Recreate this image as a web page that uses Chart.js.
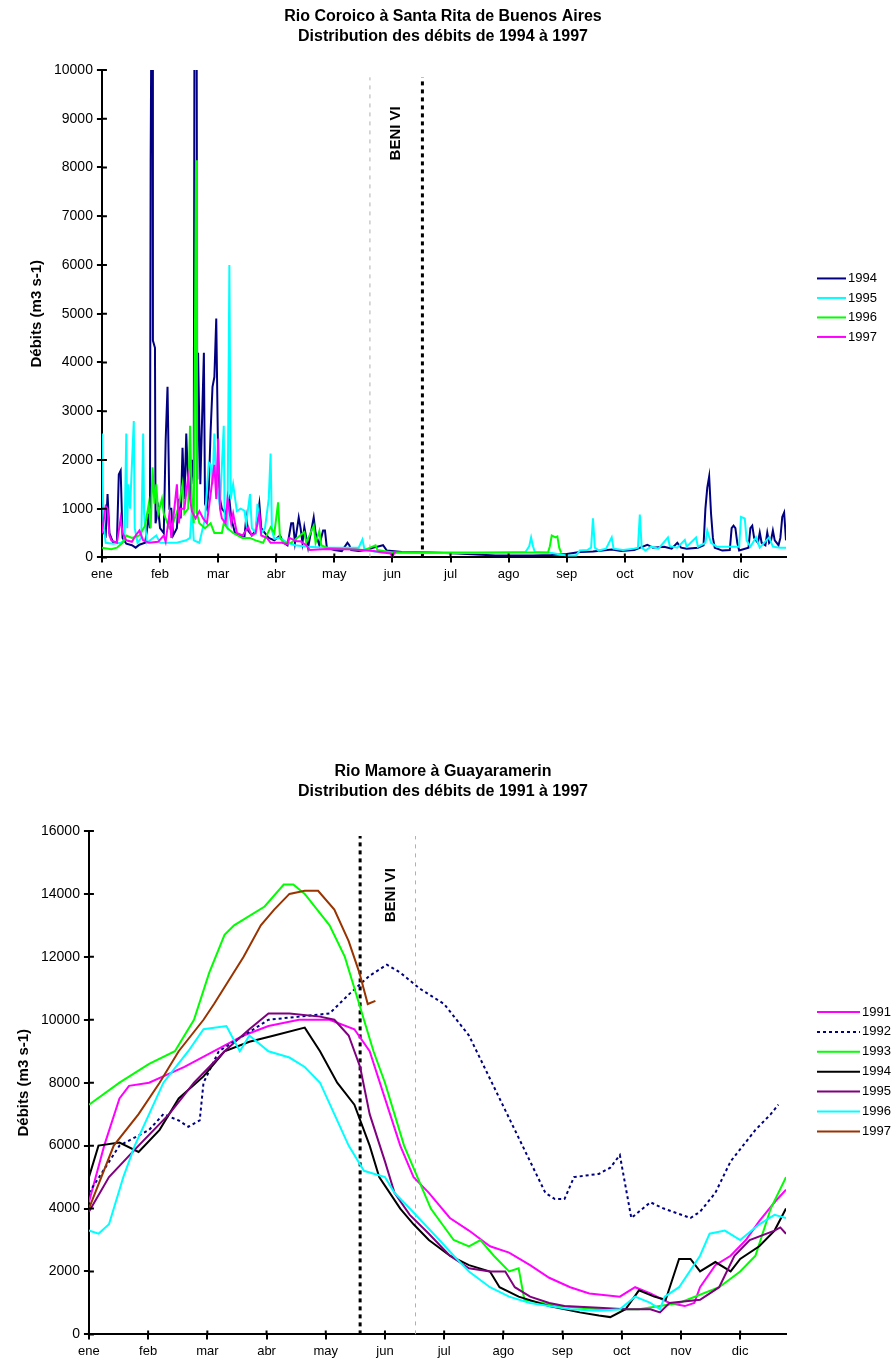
<!DOCTYPE html>
<html>
<head>
<meta charset="utf-8">
<script src="https://cdn.jsdelivr.net/npm/chart.js@4.4.1/dist/chart.umd.min.js"></script>
<style>
  body { margin: 0; background: #fff; width: 895px; height: 1361px; position: relative; overflow: hidden; }
  canvas { position: absolute; left: 0; }
</style>
</head>
<body>
<canvas id="coroico" width="895" height="600" style="top:0"></canvas>
<canvas id="mamore" width="895" height="615" style="top:750px"></canvas>
<script>
// Month ticks (day of year) and labels
const monthDays = [0, 31, 62, 93, 124, 155, 186, 217, 248, 279, 310, 341];
const monthLabels = ['ene', 'feb', 'mar', 'abr', 'may', 'jun', 'jul', 'ago', 'sep', 'oct', 'nov', 'dic'];

// ---- Rio Coroico, daily flow [day, m3/s]
const coroico1994 = [[0,550],[2,450],[3,1300],[4,500],[6,300],[8,320],[9,1700],[10,1780],[11,400],[13,280],
  [16,250],[18,200],[20,260],[23,300],[24,550],[25,900],[25.6,600],[26,8150],[26.5,12000],[27,12000],
  [27.2,4450],[28.3,4300],[28.6,700],[30,1000],[31,600],[33,500],[34,2400],[35,3500],[36,1000],[37,1000],
  [38,450],[40,600],[41,1200],[42,800],[43,2250],[44,1200],[45,2540],[46,1500],[47,1200],[48,2000],
  [49,1500],[49.4,12000],[50.5,12000],[50.9,1600],[51.3,4200],[52.5,1500],[54.4,4200],[55,1100],[56,1000],[57,1400],
  [58,2600],[59,3500],[60,3700],[61,4900],[62,2000],[63,1200],[64,1000],[66,900],[68,1200],[69,800],
  [71,500],[73,450],[76,400],[77,820],[78,550],[80,450],[82,550],[84,1100],[85,600],[87,500],
  [89,400],[92,350],[95,450],[97,300],[99,250],[101,700],[102,700],[103,300],[105,820],[106,600],
  [107,300],[108,620],[110,200],[113,820],[114,500],[116,250],[118,550],[119,550],[120,200],[124,150],
  [128,130],[131,300],[132,250],[133,150],[137,130],[141,150],[145,200],[150,250],[152,140],[160,110],
  [175,100],[190,80],[200,60],[210,40],[230,40],[240,50],[248,70],[255,110],[262,120],[267,140],
  [272,160],[277,130],[284,150],[291,260],[294,200],[300,220],[304,180],[307,300],[309,200],[312,180],
  [318,200],[321,250],[322,1000],[323,1430],[324,1660],[325,900],[326,400],[327,200],[331,140],[335,150],
  [336,600],[337,650],[338,600],[339,300],[340,140],[345,200],[346,600],[347,650],[348,400],[350,300],
  [351,510],[352,300],[354,250],[355,510],[356,300],[357,350],[358,550],[359,350],[361,250],[362,400],
  [363,830],[364,920],[365,350]];
const coroico1995 = [[0,2540],[0.8,700],[2,300],[6,280],[10,300],[12,350],[13,2540],[13.5,600],[14,1500],[15,1000],
  [16,1900],[17,2800],[17.5,600],[19,300],[21,400],[22,2540],[22.5,900],[24,300],[29,450],[31,300],
  [40,300],[45,350],[47,400],[48,1000],[49,350],[52,300],[55,800],[57,1950],[58,1900],[59,1500],
  [60,2540],[61,1550],[63,1050],[65,2700],[65.5,700],[67,600],[68,6000],[68.7,1200],[70,1500],[72,950],
  [74,1000],[76,960],[77,700],[79,1300],[80,600],[82,500],[83,1100],[84,700],[85,500],[87,600],
  [89,1200],[90,2130],[90.7,550],[92,380],[95,400],[99,300],[103,250],[110,220],[120,200],[130,200],
  [137,200],[139,370],[140,180],[145,120],[150,100],[170,90],[200,90],[226,110],[228,230],[229,410],
  [230,230],[231,110],[240,90],[248,40],[253,40],[255,140],[259,150],[261,200],[262,800],[263,200],
  [265,140],[269,180],[272,410],[273,180],[278,150],[284,180],[286,200],[287,880],[288,200],[290,140],
  [293,220],[297,180],[302,410],[303,230],[307,200],[311,360],[312,220],[317,410],[318,220],[322,300],
  [323,550],[325,300],[328,220],[335,220],[340,220],[341,830],[343,800],[344,350],[346,220],[349,410],
  [351,200],[356,410],[358,220],[362,200],[365,200]];
const coroico1996 = [[0,200],[5,170],[8,200],[11,300],[13,450],[16,400],[20,450],[23,650],[25,1100],[26,600],
  [27,1850],[28,1100],[29,1500],[30,900],[32,1200],[33,900],[36,600],[38,700],[41,1050],[43,1500],
  [44,900],[46,1000],[47,2700],[48,1200],[49,700],[50.2,8150],[50.7,900],[52,700],[55,600],[58,700],
  [60,500],[64,500],[65,700],[67,600],[70,500],[75,400],[79,400],[82,350],[86,300],[90,620],
  [92,500],[94,1130],[95,400],[97,300],[101,300],[108,520],[109,300],[113,650],[114,300],[116,540],
  [117,250],[120,200],[128,180],[140,150],[146,250],[147,150],[155,100],[200,100],[238,100],[239,230],
  [240,450],[242,410],[243,430],[244,200],[245,100]];
const coroico1997 = [[0,500],[2,1050],[3,1000],[4,450],[5,350],[8,300],[10,800],[11,500],[13,350],[16,320],
  [18,450],[20,550],[22,350],[25,300],[30,320],[33,450],[34,320],[36,900],[37,400],[40,1500],
  [41,700],[42,1000],[44,1000],[46,1650],[47,1200],[48,950],[50,800],[52,950],[54,800],[56,700],
  [60,1900],[61,1200],[62,2440],[63,1000],[64,800],[66,700],[67,1200],[69,700],[70,900],[72,500],
  [75,450],[78,620],[80,450],[82,500],[84,900],[85,450],[88,400],[90,300],[96,300],[99,270],
  [100,400],[104,330],[106,330],[109,250],[111,150],[120,170],[135,160],[145,130],[150,100],[154,80],
  [155,0],[156,100],[157,100]];
const coroicoMarkers = [143, 171];      // grey dashed, black dotted (day of year)
const coroicoMarkerTop = 9850;
const coroicoLabelAt = [157, 8700];

// ---- Rio Mamore, daily flow [day, m3/s]
const mamore1991 = [[0,4200],[8,6000],[16,7500],[21,7900],[31.5,8000],[50,8500],[65.5,9000],[81,9500],[94,9800],[110,10000],
  [126,10000],[139,9700],[147,9000],[155,7500],[163,6000],[170,5000],[178,4500],[189,3700],[199,3300],[210,2800],
  [220,2600],[231,2200],[241,1800],[252,1500],[262,1300],[278,1200],[286,1500],[294,1300],[304,1000],[312,900],
  [317,1000],[320,1500],[328,2200],[336,2500],[344,3000],[351,3600],[359,4200],[365,4600]];
const mamore1992 = [[0,4500],[16,6000],[31.5,6500],[39,7000],[47,6800],[52,6600],[58,6800],[60,8000],[68,9000],[81,9500],
  [94,10000],[110,10100],[126,10200],[136,10800],[147,11400],[156,11750],[163,11500],[173,11000],[186,10500],[199,9500],
  [207,8500],[215,7500],[223,6500],[231,5500],[239,4500],[244,4300],[249,4300],[254,5000],[267,5100],[273,5300],
  [278,5700],[284,3700],[294,4200],[301,4000],[315,3700],[320,3900],[328,4500],[336,5500],[349,6500],[357,7000],
  [361,7300]];
const mamore1993 = [[0,7300],[16,8000],[31.5,8600],[45,9000],[55,10000],[63,11500],[71,12700],[76,13000],[92,13600],[102,14300],
  [107,14300],[113,14000],[126,13000],[134,12000],[139,11000],[144,10000],[149,9000],[155,8000],[160,7000],[165,6000],
  [172,5000],[179,4000],[191,3000],[199,2800],[205,3000],[212,2500],[220,2000],[225,2100],[228,1100],[246,900],
  [267,800],[288,800],[309,1000],[330,1500],[341,2000],[349,2500],[357,4000],[365,5000]];
const mamore1994 = [[0,5000],[5,6000],[16,6100],[26,5800],[37,6500],[47,7500],[60,8200],[71,9000],[84,9300],[97,9500],
  [113,9750],[121,9000],[130,8000],[139,7300],[147,6000],[152,5000],[163,4000],[170,3500],[178,3000],[189,2500],
  [199,2200],[210,2000],[215,1500],[225,1200],[241,900],[257,700],[267,600],[273,550],[281,800],[288,1400],
  [296,1200],[302,1100],[309,2400],[315,2400],[320,2000],[328,2300],[336,2000],[341,2400],[351,2800],[359,3300],
  [365,4000]];
const mamore1995 = [[0,3900],[10.5,5000],[26,6000],[42,7000],[55,8000],[71,9000],[84,9700],[94,10200],[105,10200],[121,10100],
  [128.5,10000],[136,9500],[142,8500],[147,7000],[155,5500],[160,4500],[168,3800],[178,3200],[189,2500],[199,2100],
  [210,2000],[218,2000],[223,1500],[231,1200],[241,1000],[249,900],[267,850],[281,800],[294,800],[299,700],
  [304,1000],[320,1100],[330,1500],[338,2500],[346,3000],[359,3300],[362,3400],[365,3200]];
const mamore1996 = [[0,3300],[5,3200],[10.5,3500],[18,5000],[24,6000],[31.5,7000],[39,8000],[52,9000],[60,9700],[72,9800],
  [79,9000],[84,9500],[94,9000],[105,8800],[113,8500],[121,8000],[128.5,7000],[136,6000],[144,5200],[155,5000],
  [160,4500],[168,4000],[183.5,3000],[191,2500],[199,2000],[210,1500],[220,1200],[231,1000],[241,900],[252,800],
  [267,750],[278,800],[286,1200],[294,1000],[299,800],[301.5,1200],[309,1500],[320,2500],[325,3200],[333,3300],
  [341,3000],[351,3500],[359,3800],[365,3700]];
const mamore1997 = [[0,4000],[13,6000],[26,7000],[37,8000],[47,9000],[60,10000],[65.5,10500],[81,12000],[90,13000],[97,13500],
  [105,14000],[113,14100],[120,14100],[128.5,13500],[136,12500],[141.6,11500],[146,10500],[150,10600]];
const mamoreMarkers = [142, 171];       // black dotted, grey dashed
const mamoreMarkerTop = 15840;
const mamoreLabelAt = [158, 13960];

const FONT = "'Liberation Sans', Arial, sans-serif";
Chart.defaults.font.family = FONT;
Chart.defaults.color = '#000';

const toPoints = arr => arr.map(p => ({ x: p[0], y: p[1] }));

// Two-line title, centred on the page rather than on the padded layout box
const pageTitle = {
  id: 'pageTitle',
  afterDraw(chart, args, opts) {
    const { ctx } = chart;
    ctx.save();
    ctx.font = 'bold 16px ' + FONT;
    ctx.textAlign = 'center';
    ctx.textBaseline = 'middle';
    ctx.fillStyle = '#000';
    opts.lines.forEach((line, i) => ctx.fillText(line, opts.x, opts.y + i * 20));
    ctx.restore();
  }
};

// Legend drawn to the right of the plot: a short line then the year
const yearLegend = {
  id: 'yearLegend',
  afterDraw(chart, args, opts) {
    const { ctx, chartArea } = chart;
    const items = chart.data.datasets.filter(d => d.label).sort((a, b) => a.label.localeCompare(b.label));
    let y = (chartArea.top + chartArea.bottom) / 2 + opts.shift - (items.length - 1) * opts.rowGap / 2;
    const x = chartArea.right + opts.gap;
    ctx.save();
    ctx.font = '13px ' + FONT;
    ctx.textBaseline = 'middle';
    ctx.fillStyle = '#000';
    items.forEach(d => {
      ctx.beginPath();
      ctx.setLineDash(d.borderDash || []);
      ctx.strokeStyle = d.borderColor;
      ctx.lineWidth = 2;
      ctx.moveTo(x, y);
      ctx.lineTo(x + opts.lineLen, y);
      ctx.stroke();
      ctx.setLineDash([]);
      ctx.fillText(d.label, x + opts.lineLen + 2, y);
      y += opts.rowGap;
    });
    ctx.restore();
  }
};

// Rotated "BENI VI" note placed in data units
const markerText = {
  id: 'markerText',
  afterDatasetsDraw(chart, args, opts) {
    const { ctx, scales } = chart;
    const x = scales.x.getPixelForValue(opts.at[0]);
    const y = scales.y.getPixelForValue(opts.at[1]);
    ctx.save();
    ctx.translate(x, y);
    ctx.rotate(-Math.PI / 2);
    ctx.font = 'bold 15px ' + FONT;
    ctx.textAlign = 'center';
    ctx.textBaseline = 'middle';
    ctx.fillStyle = '#000';
    ctx.fillText(opts.text, 0, 0);
    ctx.restore();
  }
};

// Tick marks that cross the axes (inner half)
const crossTicks = {
  id: 'crossTicks',
  afterDraw(chart) {
    const { ctx, chartArea, scales } = chart;
    ctx.save();
    ctx.strokeStyle = '#000';
    ctx.lineWidth = 2;
    ctx.beginPath();
    scales.x.ticks.forEach(t => {
      const px = scales.x.getPixelForValue(t.value);
      ctx.moveTo(px, chartArea.bottom);
      ctx.lineTo(px, chartArea.bottom - 4);
    });
    scales.y.ticks.forEach(t => {
      const py = scales.y.getPixelForValue(t.value);
      ctx.moveTo(chartArea.left, py);
      ctx.lineTo(chartArea.left + 5, py);
    });
    ctx.stroke();
    ctx.restore();
  }
};

function markerDatasets(days, top, styles) {
  return days.map((d, i) => ({
    label: '',
    data: [{ x: d, y: 0 }, { x: d, y: top }],
    borderColor: styles[i].color,
    borderWidth: styles[i].width,
    borderDash: styles[i].dash,
    pointRadius: 0
  }));
}

const greyDash = { color: '#b0b0b0', width: 1, dash: [4, 5] };
const blackDot = { color: '#000000', width: 3, dash: [4, 4] };

function buildChart(id, cfg) {
  return new Chart(document.getElementById(id), {
    type: 'line',
    data: { datasets: cfg.series.slice().reverse().concat(cfg.markers) },
    options: {
      responsive: false,
      animation: false,
      events: [],
      layout: { padding: cfg.padding },
      elements: { point: { radius: 0 }, line: { tension: 0, borderWidth: 2 } },
      plugins: {
        legend: { display: false },
        tooltip: { enabled: false },
        title: { display: false },
        pageTitle: { lines: cfg.title, x: 443, y: cfg.titleY },
        yearLegend: { gap: 31, lineLen: cfg.legendLine, rowGap: cfg.legendGap, shift: cfg.legendShift },
        markerText: { text: 'BENI VI', at: cfg.labelAt }
      },
      scales: {
        x: {
          type: 'linear',
          min: 0,
          max: 365,
          afterBuildTicks: scale => { scale.ticks = monthDays.map(v => ({ value: v })); },
          ticks: {
            autoSkip: false,
            maxRotation: 0,
            padding: 4,
            font: { size: 13 },
            callback: (v, i) => monthLabels[i]
          },
          grid: { drawOnChartArea: false, color: '#000', lineWidth: 2, tickLength: 5 },
          border: { color: '#000', width: 2 }
        },
        y: {
          min: 0,
          max: cfg.yMax,
          ticks: { stepSize: cfg.yStep, padding: 4, font: { size: 14 }, callback: v => String(v) },
          grid: { drawOnChartArea: false, color: '#000', lineWidth: 2, tickLength: 5 },
          border: { color: '#000', width: 2 },
          title: {
            display: true,
            text: 'Débits (m3 s-1)',
            font: { size: 15, weight: 'bold' },
            padding: { top: 2, bottom: 4 }
          }
        }
      }
    },
    plugins: [pageTitle, yearLegend, markerText, crossTicks]
  });
}

const coroicoColors = ['#000080', '#00ffff', '#00ff00', '#ff00ff'];
buildChart('coroico', {
  title: ['Rio Coroico à Santa Rita de Buenos Aires', 'Distribution des débits de 1994 à 1997'],
  titleY: 17,
  padding: { top: 70, left: 26, right: 109, bottom: 14 },
  yMax: 10000,
  yStep: 1000,
  legendLine: 29,
  legendGap: 19.5,
  legendShift: -6,
  labelAt: coroicoLabelAt,
  series: [coroico1994, coroico1995, coroico1996, coroico1997].map((s, i) => ({
    label: String(1994 + i),
    data: toPoints(s),
    borderColor: coroicoColors[i]
  })),
  markers: markerDatasets(coroicoMarkers, coroicoMarkerTop, [greyDash, blackDot])
});

const mamoreColors = ['#ff00ff', '#000080', '#00ff00', '#000000', '#800080', '#00ffff', '#993300'];
buildChart('mamore', {
  title: ['Rio Mamore à Guayaramerin', 'Distribution des débits de 1991 à 1997'],
  titleY: 22,
  padding: { top: 81, left: 13, right: 109, bottom: 2 },
  yMax: 16000,
  yStep: 2000,
  legendLine: 43,
  legendGap: 19.9,
  legendShift: -11,
  labelAt: mamoreLabelAt,
  series: [mamore1991, mamore1992, mamore1993, mamore1994, mamore1995, mamore1996, mamore1997].map((s, i) => ({
    label: String(1991 + i),
    data: toPoints(s),
    borderColor: mamoreColors[i],
    borderDash: i === 1 ? [3, 3] : undefined
  })),
  markers: markerDatasets(mamoreMarkers, mamoreMarkerTop, [blackDot, greyDash])
});
</script>
</body>
</html>
